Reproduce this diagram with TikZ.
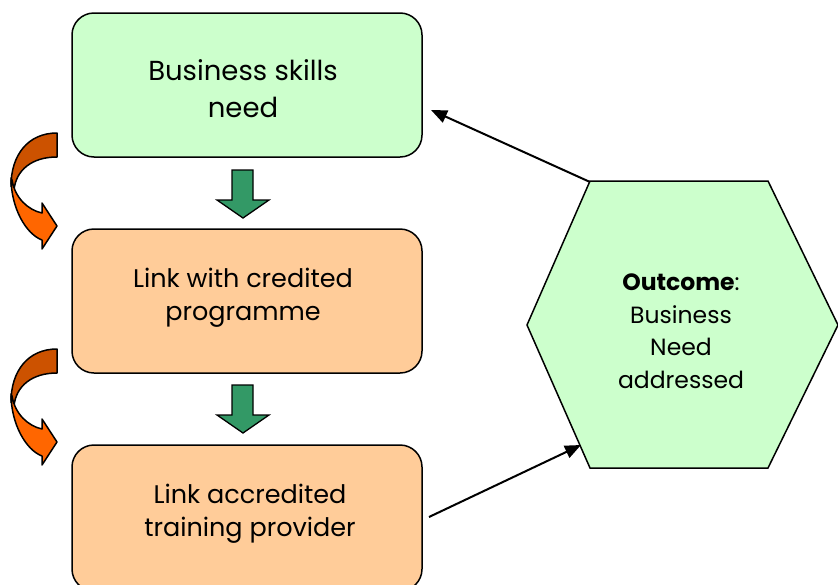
\documentclass[tikz,border=0pt]{standalone}
\usepackage{fontspec}
\setmainfont{Poppins}
\usetikzlibrary{arrows.meta}
\definecolor{boxgreen}{HTML}{CCFFCC}
\definecolor{boxorange}{HTML}{FFCC99}
\definecolor{arrgreen}{HTML}{339966}
\definecolor{darkor}{HTML}{CC5200}
\definecolor{lightor}{HTML}{FF6600}
\tikzset{
  box/.style={draw=black, line width=1.5pt, rounded corners=22pt, minimum width=350pt, minimum height=144pt, inner sep=0pt},
  bigtxt/.style={align=center, font=\fontsize{27.5}{37}\selectfont, inner sep=0pt},
  midtxt/.style={align=center, font=\fontsize{25.5}{33}\selectfont, inner sep=0pt},
  hextxt/.style={align=center, font=\fontsize{23.5}{32.5}\selectfont, inner sep=0pt},
  conn/.style={line width=2pt, -{Triangle[length=16pt,width=13pt]}},
  blockarrow/.style={fill=arrgreen, draw=black, line width=1.3pt, line join=miter},
  curvedark/.style={fill=darkor, draw=black, line width=1.5pt, line join=round},
  curvelight/.style={fill=lightor, draw=black, line width=1.5pt, line join=round}
}
\begin{document}
\begin{tikzpicture}[x=1pt,y=-1pt]
\useasboundingbox (0,0) rectangle (838,584);
% boxes
\node[box, fill=boxgreen] (b1) at (247,85) {};
\node[box, fill=boxorange] (b2) at (247,301) {};
\node[box, fill=boxorange, minimum height=146pt] (b3) at (247,518) {};
\node[bigtxt] (t1) at (243,89) {Business skills\\need};
\node[midtxt] (t2) at (243,298) {Link with credited\\programme};
\node[midtxt] (t3) at (250,514) {Link accredited\\training provider};
% hexagon
\coordinate (h1) at (590,181);
\coordinate (h2) at (768,181);
\coordinate (h3) at (838,325);
\coordinate (h4) at (768,468);
\coordinate (h5) at (590,468);
\coordinate (h6) at (527,325);
\draw[fill=boxgreen, line width=1.5pt, line join=miter] (h1) -- (h2) -- (h3) -- (h4) -- (h5) -- (h6) -- cycle;
\node[hextxt] (th) at (681,331) {\textbf{Outcome}:\\Business\\Need\\addressed};
% connectors
\coordinate (c1s) at (590,182);
\coordinate (c1e) at (431,110);
\coordinate (c2s) at (429,517);
\coordinate (c2e) at (581,445);
\draw[conn] (c1s) -- (c1e);
\draw[conn] (c2s) -- (c2e);
% green block arrows
\foreach \dy in {0,215} {
  \begin{scope}[yshift=-\dy pt]
  \draw[blockarrow] (232,170) -- (253,170) -- (253,200) -- (269,200) -- (243,218) -- (217,200) -- (232,200) -- cycle;
  \end{scope}
}
% curved orange arrows
\foreach \dy in {0,216} {
  \begin{scope}[yshift=-\dy pt]
  \draw[curvedark] (57,133) .. controls (28,133) and (11,155) .. (11,186)
      -- (14,190) .. controls (16,170) and (32,157) .. (57,157) -- cycle;
  \draw[curvelight] (11,178) .. controls (11,208) and (26,234) .. (42,240)
      -- (42,249) -- (57,226) -- (42,203) -- (42,213)
      .. controls (28,210) and (15,198) .. (12,180) -- cycle;
  \end{scope}
}
\end{tikzpicture}
\end{document}
